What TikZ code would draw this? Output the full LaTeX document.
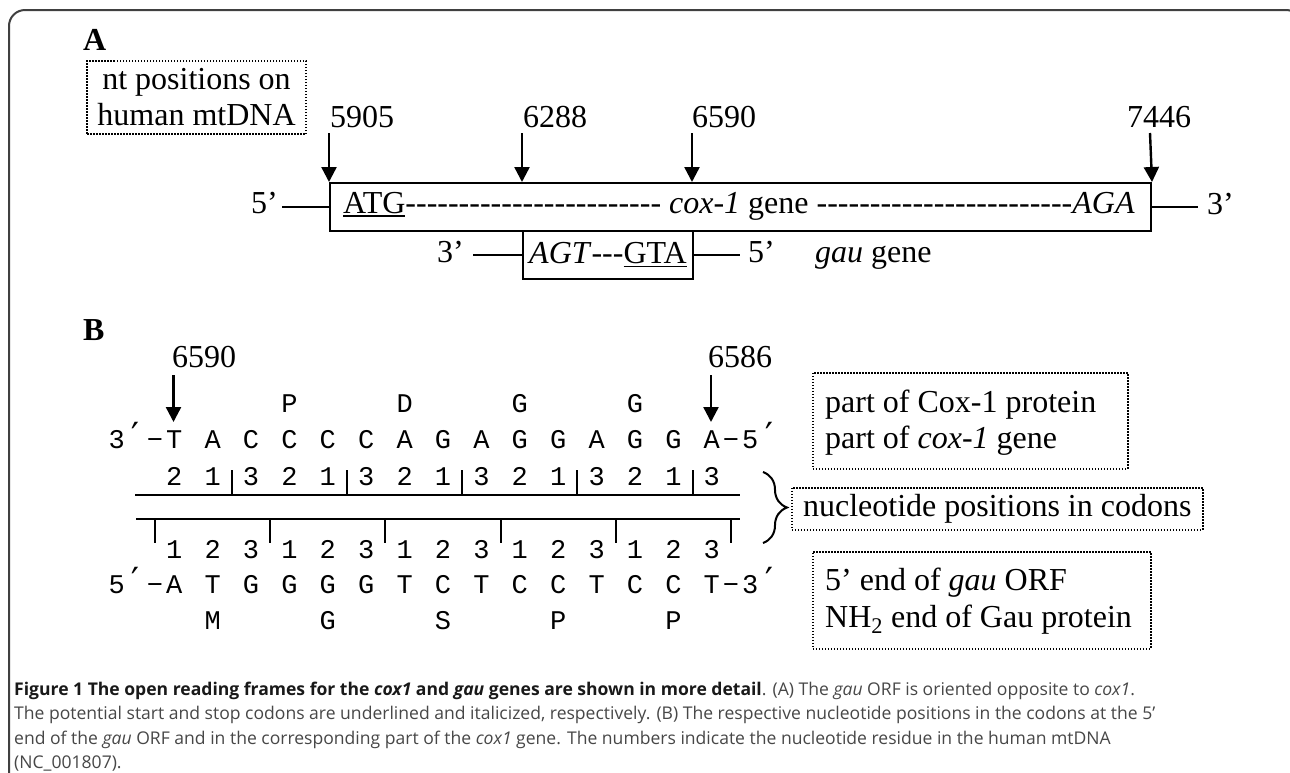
\documentclass[tikz,border=0pt]{standalone}
\usepackage{fontspec}
\setmainfont{Liberation Serif}
\newfontfamily\monof{Liberation Mono}
\newfontfamily\primef{DejaVu Sans Mono}
\newfontfamily\capf{Open Sans}
\usetikzlibrary{arrows.meta,decorations.pathreplacing}
\newcommand\myul[1]{\leavevmode\setbox0\hbox{#1}\rlap{\rule[-3.5pt]{\wd0}{1.8pt}}\box0}
\newcommand\dashes[1]{\foreach \i in {1,...,#1}{-\kern0pt}}
\newcommand\pr{{\primef\fontsize{36}{36}\selectfont ′}}
\newcommand\mi{−}
\begin{document}
\begin{tikzpicture}[x=1pt,y=-1pt,
  tnr/.style={font=\fontsize{32}{36}\selectfont, inner sep=0pt},
  bold/.style={font=\bfseries\fontsize{32}{36}\selectfont, inner sep=0pt, anchor=base west},
  monoc/.style={font=\monof\fontsize{27}{27}\selectfont, inner sep=0pt, anchor=base},
  boxline/.style={line width=2pt},
  dotbox/.style={draw, line width=1.5pt, dash pattern=on 1.5pt off 1.5pt, font=\fontsize{32}{36}\selectfont},
  posarrow/.style={line width=2.4pt, -{Triangle[length=15pt,width=15pt]}},
  capst/.style={font=\capf\fontsize{17.55}{24}\selectfont, inner sep=0pt, anchor=base west, text=black!72},
]
\useasboundingbox (0,0) rectangle (1290,772);
\fill[white] (0,0) rectangle (1290,772);
\draw[line width=2pt, draw=black!75, rounded corners=16pt] (9,790) -- (9,10) -- (1302,10) -- (1302,790);

% ---------- Panel A ----------
\node[bold] (lblA) at (83,50) {A};
\node[dotbox, minimum width=219pt, minimum height=73pt, align=center, inner sep=0pt] (ntbox) at (196.5,97.5) {nt positions on\\human mtDNA};

\node[tnr, anchor=base west] (p5905) at (330,127) {5905};
\node[tnr, anchor=base west] (p6288) at (523,127) {6288};
\node[tnr, anchor=base west] (p6590) at (692,127) {6590};
\node[tnr, anchor=base west] (p7446) at (1127,127) {7446};

\node[draw, boxline, anchor=north west, minimum width=821pt, minimum height=48pt, inner sep=0pt] (cox) at (329,182) {};
\coordinate (s5905) at (329,133);
\coordinate (s6288) at (522,133);
\coordinate (s6590) at (692,133);
\coordinate (s7446) at (1150,133);
\coordinate (t6288) at (522,182);
\coordinate (t6590) at (692,182);
\draw[posarrow] (s5905) -- (cox.north west);
\draw[posarrow] (s6288) -- (t6288);
\draw[posarrow] (s6590) -- (t6590);
\draw[posarrow] (s7446) -- (cox.north east);

\node[tnr, anchor=base west] (coxtxt) at (343,213) {\myul{ATG}\dashes{24} \textit{cox-1} gene \dashes{24}\textit{AGA}};
\node[tnr, anchor=base east] (five1) at (278,213) {5’};
\draw[boxline] ([xshift=4pt]five1.east |- cox.west) -- (cox.west);
\node[tnr, anchor=base west] (three1) at (1207,214) {3’};
\draw[boxline] (cox.east) -- ([xshift=-9pt]three1.west |- cox.east);

\node[draw, boxline, tnr, anchor=north west, minimum width=170pt, minimum height=48pt] (gau) at (522,230) {\textit{AGT}\dashes{3}\myul{GTA}};
\node[tnr, anchor=base east] (three2) at (464,262) {3’};
\draw[boxline] ([xshift=9pt]three2.east |- gau.west) -- (gau.west);
\node[tnr, anchor=base west] (five2) at (748,262) {5’};
\draw[boxline] (gau.east) -- ([xshift=-8pt]five2.west |- gau.east);
\node[tnr, anchor=base west] (gaugene) at (815,262) {\textit{gau} gene};

% ---------- Panel B ----------
\node[bold] (lblB) at (83,340) {B};
\node[tnr, anchor=base west] (q6590) at (172,367) {6590};
\node[tnr, anchor=base west] (q6586) at (708,367) {6586};
\coordinate (u6590) at (173.5,375);
\coordinate (v6590) at (173.5,422);
\coordinate (u6586) at (711,375);
\coordinate (v6586) at (711,422);
\draw[posarrow] (u6590) -- (v6590);
\draw[posarrow] (u6586) -- (v6586);

\foreach \k/\ch in {9/P,15/D,21/G,27/G}
  \node[monoc] (aatop-\k) at ({116.6+\k*19.2},412) {\ch};
\foreach \k/\ch in {0/3,1/\pr,2/\mi,3/T,5/A,7/C,9/C,11/C,13/C,15/A,17/G,19/A,21/G,23/G,25/A,27/G,29/G,31/A,32/\mi,33/5,34/\pr}
  \node[monoc] (coxseq-\k) at ({116.6+\k*19.2},448) {\ch};
\foreach \k/\ch in {3/2,5/1,7/3,9/2,11/1,13/3,15/2,17/1,19/3,21/2,23/1,25/3,27/2,29/1,31/3}
  \node[monoc] (numtop-\k) at ({116.6+\k*19.2},485) {\ch};
\foreach \k/\ch in {3/1,5/2,7/3,9/1,11/2,13/3,15/1,17/2,19/3,21/1,23/2,25/3,27/1,29/2,31/3}
  \node[monoc] (numbot-\k) at ({116.6+\k*19.2},558) {\ch};
\foreach \k/\ch in {0/5,1/\pr,2/\mi,3/A,5/T,7/G,9/G,11/G,13/G,15/T,17/C,19/T,21/C,23/C,25/T,27/C,29/C,31/T,32/\mi,33/3,34/\pr}
  \node[monoc] (gauseq-\k) at ({116.6+\k*19.2},593) {\ch};
\foreach \k/\ch in {5/M,11/G,17/S,23/P,29/P}
  \node[monoc] (aabot-\k) at ({116.6+\k*19.2},629) {\ch};

\coordinate (la) at (135,495);
\coordinate (lb) at (740,495);
\coordinate (lc) at (136,519);
\coordinate (ld) at (740,519);
\draw[boxline] (la) -- (lb);
\draw[boxline] (lc) -- (ld);
\foreach \c in {6,12,18,24,30} \draw[boxline] ({116.6+\c*19.2},495) -- ++(0,-25);
\foreach \c in {2,8,14,20,26,32} \draw[boxline] ({116.6+\c*19.2},519) -- ++(0,24);

\coordinate (brt) at (763,472);
\coordinate (brb) at (763,543);
\draw[decorate, decoration={brace, amplitude=24pt}, line width=2pt] (brt) -- (brb);

\node[dotbox, anchor=north west, minimum width=315pt, minimum height=96pt, inner sep=0pt] (cbox) at (812,372) {};
\node[tnr, anchor=base west] (cbox-a) at (825,412) {part of Cox-1 protein};
\node[tnr, anchor=base west] (cbox-b) at (825,448) {part of \textit{cox-1} gene};
\node[dotbox, anchor=north west, minimum width=411pt, minimum height=42pt, inner sep=0pt] (nbox) at (791,487) {nucleotide positions in codons};
\node[dotbox, anchor=north west, minimum width=338pt, minimum height=97pt, inner sep=0pt] (gbox) at (812,551) {};
\node[tnr, anchor=base west] (gbox-a) at (825,590) {5’ end of \textit{gau} ORF};
\node[tnr, anchor=base west] (gbox-b) at (825,627) {NH\textsubscript{2} end of Gau protein};

% ---------- Caption ----------
\node[capst] (cap1) at (14,695) {{\color{black!90}\bfseries Figure 1 The open reading frames for the \textit{cox1} and \textit{gau} genes are shown in more detail}. (A) The \textit{gau} ORF is oriented opposite to \textit{cox1}.};
\node[capst] (cap2) at (14,719) {The potential start and stop codons are underlined and italicized, respectively. (B) The respective nucleotide positions in the codons at the 5’};
\node[capst] (cap3) at (14,744) {end of the \textit{gau} ORF and in the corresponding part of the \textit{cox1} gene. The numbers indicate the nucleotide residue in the human mtDNA};
\node[capst] (cap4) at (14,768) {(NC\_001807).};
\end{tikzpicture}
\end{document}
